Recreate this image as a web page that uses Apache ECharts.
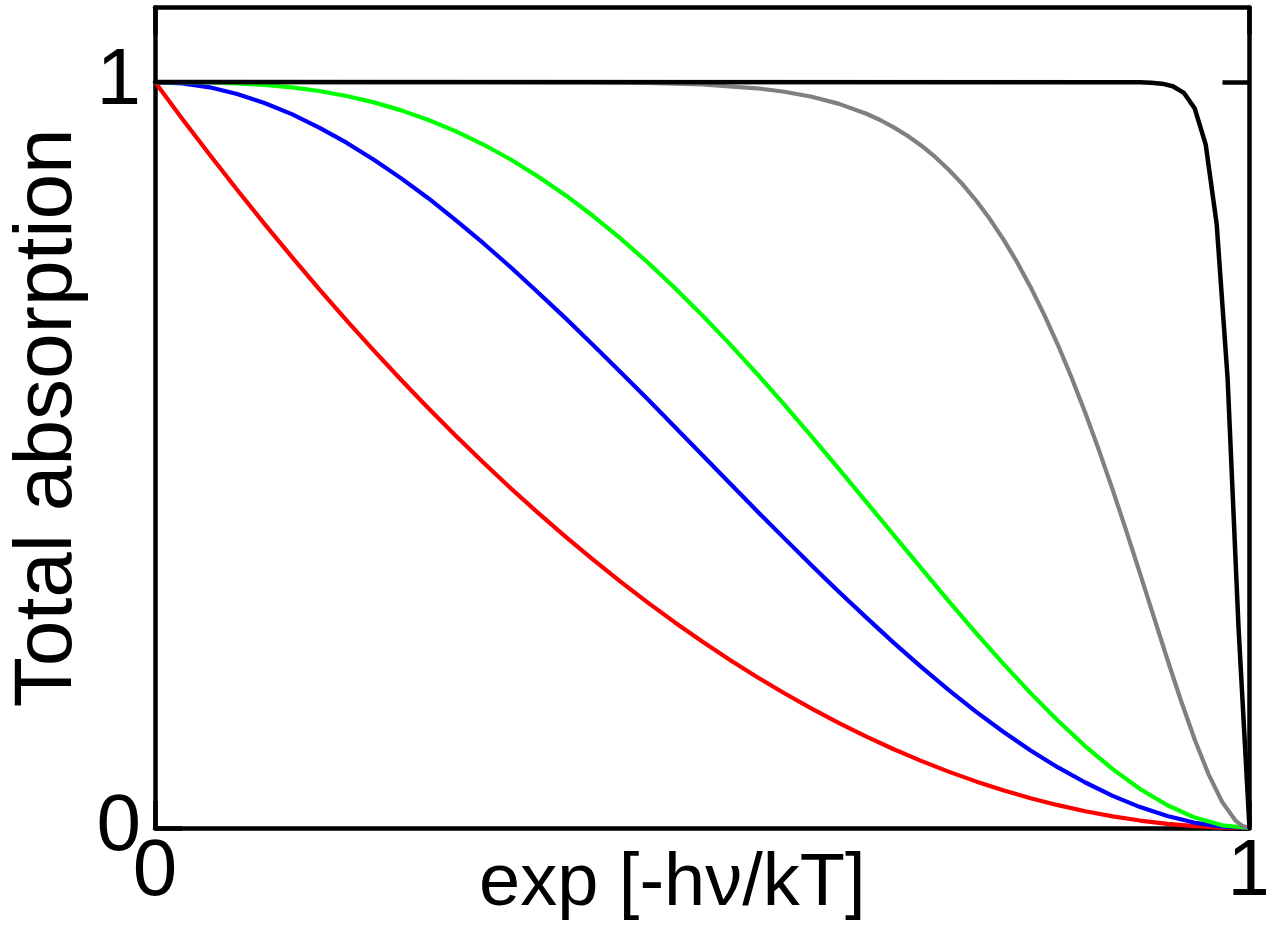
<!DOCTYPE html>
<html>
<head>
<meta charset="utf-8">
<script src="https://cdn.jsdelivr.net/npm/echarts@6/dist/echarts.min.js"></script>
<style>html,body{margin:0;padding:0;background:#fff}#c{width:1266px;height:928px}</style>
</head>
<body>
<div id="c"></div>
<script>
// x positions (exp[-hν/kT]) for the red, blue, green curves
const xSteps = [0,0.025,0.05,0.075,0.1,0.125,0.15,0.175,0.2,0.225,0.25,0.275,0.3,0.325,0.35,0.375,0.4,0.425,0.45,0.475,0.5,
  0.525,0.55,0.575,0.6,0.625,0.65,0.675,0.7,0.725,0.75,0.775,0.8,0.825,0.85,0.875,0.9,0.925,0.95,0.975,1];
const redVals = [1,0.9506,0.9025,0.8556,0.81,0.7656,0.7225,0.6806,0.64,0.6006,0.5625,0.5256,0.49,0.4556,0.4225,0.3906,0.36,0.3306,0.3025,0.2756,0.25,
  0.2256,0.2025,0.1806,0.16,0.1406,0.1225,0.1056,0.09,0.0756,0.0625,0.0506,0.04,0.0306,0.0225,0.0156,0.01,0.0056,0.0025,0.0006,0];
const blueVals = [1,0.9982,0.993,0.984,0.972,0.957,0.939,0.9188,0.896,0.8709,0.844,0.8147,0.784,0.7518,0.718,0.6836,0.648,0.6117,0.575,0.5375,0.5,
  0.4625,0.425,0.3883,0.352,0.3164,0.282,0.2482,0.216,0.1853,0.156,0.1291,0.104,0.0812,0.061,0.043,0.028,0.016,0.007,0.0018,0];
const greenVals = [1,0.9999,0.9995,0.9984,0.9963,0.9929,0.988,0.9814,0.9728,0.9621,0.9492,0.934,0.9163,0.8962,0.8735,0.8484,0.8208,0.7908,0.7585,0.724,0.6875,
  0.6491,0.609,0.5675,0.5248,0.4812,0.437,0.3926,0.3483,0.3045,0.2617,0.2203,0.1808,0.1437,0.1095,0.0789,0.0523,0.0305,0.014,0.0036,0];
const grayX = [0,0.3,0.4,0.45,0.5,0.55,0.575,0.6,0.625,0.65,0.6625,0.675,0.6875,0.7,0.7125,0.725,0.7375,0.75,0.7625,0.775,0.7875,0.8,0.8125,
  0.825,0.8375,0.85,0.8625,0.875,0.8875,0.9,0.9125,0.925,0.9375,0.95,0.9625,0.975,0.9875,0.99375,1];
const grayVals = [1,1,0.9997,0.9989,0.9968,0.9917,0.9871,0.9804,0.9708,0.9576,0.9492,0.9393,0.928,0.915,0.9,0.8829,0.8635,0.8416,0.817,0.7895,0.7589,0.7251,0.688,
  0.6475,0.6036,0.5565,0.5063,0.4533,0.3981,0.341,0.2833,0.2259,0.1703,0.1184,0.0723,0.035,0.0095,0.0025,0];
const blackX = [0,0.9,0.91,0.92,0.93,0.94,0.95,0.96,0.97,0.98,0.99,1];
const blackVals = [1,0.9997,0.9992,0.9979,0.9944,0.9856,0.9645,0.9161,0.8099,0.6027,0.2681,0];
const xTicks = [0,1];
const yTicks = [0,1];

function pairs(xs, ys){ return xs.map((x,i)=>[x, ys[i]]); }

const chart = echarts.init(document.getElementById('c'), null, {renderer:'canvas'});
const lineW = 4.5;
const tickStyle = {show:true, inside:true, length:27, lineStyle:{color:'#000', width:lineW}};
const axisLine = {show:true, onZero:false, lineStyle:{color:'#000', width:lineW}};
const font = 'Liberation Sans, Arial, sans-serif';

function mkSeries(name, data, color, width){
  return {name, type:'line', data, smooth:false, showSymbol:false, symbol:'none',
    lineStyle:{color, width, join:'round', cap:'round'}, itemStyle:{color}, clip:false, animation:false};
}

chart.setOption({
  animation:false,
  backgroundColor:'#fff',
  grid:{left:155, right:16.5, top:7.5, bottom:100, containLabel:false, outerBoundsMode:'none'},
  xAxis:[{
    type:'value', min:0, max:1, position:'bottom',
    axisLine, axisTick:Object.assign({customValues:xTicks}, tickStyle),
    splitLine:{show:false},
    axisLabel:{customValues:xTicks, fontSize:80, color:'#000', fontFamily:font, margin:5,
      formatter:v=>String(v)},
    name:'exp [-h\u03bd/kT]', nameLocation:'middle', nameGap:20, nameMoveOverlap:false,
    nameTextStyle:{fontSize:74, color:'#000', fontFamily:font, padding:[0,60,0,0]}
  },{
    type:'value', min:0, max:1, position:'top',
    axisLine, axisTick:Object.assign({customValues:xTicks}, tickStyle),
    axisLabel:{show:false}, splitLine:{show:false}
  }],
  yAxis:[{
    type:'value', min:0, max:1.1, position:'left',
    axisLine, axisTick:Object.assign({customValues:yTicks}, tickStyle),
    splitLine:{show:false},
    axisLabel:{customValues:yTicks, fontSize:80, color:'#000', fontFamily:font, margin:14,
      formatter:v=>String(v)},
    name:'Total absorption', nameLocation:'middle', nameGap:66, nameRotate:90, nameMoveOverlap:false,
    nameTextStyle:{fontSize:82, color:'#000', fontFamily:font}
  },{
    type:'value', min:0, max:1.1, position:'right',
    axisLine, axisTick:Object.assign({customValues:yTicks}, tickStyle),
    axisLabel:{show:false}, splitLine:{show:false}
  }],
  series:[
    mkSeries('red', pairs(xSteps, redVals), '#ff0000', 4.2),
    mkSeries('blue', pairs(xSteps, blueVals), '#0000ff', 4.2),
    mkSeries('green', pairs(xSteps, greenVals), '#00ff00', 4.2),
    mkSeries('gray', pairs(grayX, grayVals), '#808080', 4.2),
    mkSeries('black', pairs(blackX, blackVals), '#000000', 4.5)
  ]
});
</script>
</body>
</html>
